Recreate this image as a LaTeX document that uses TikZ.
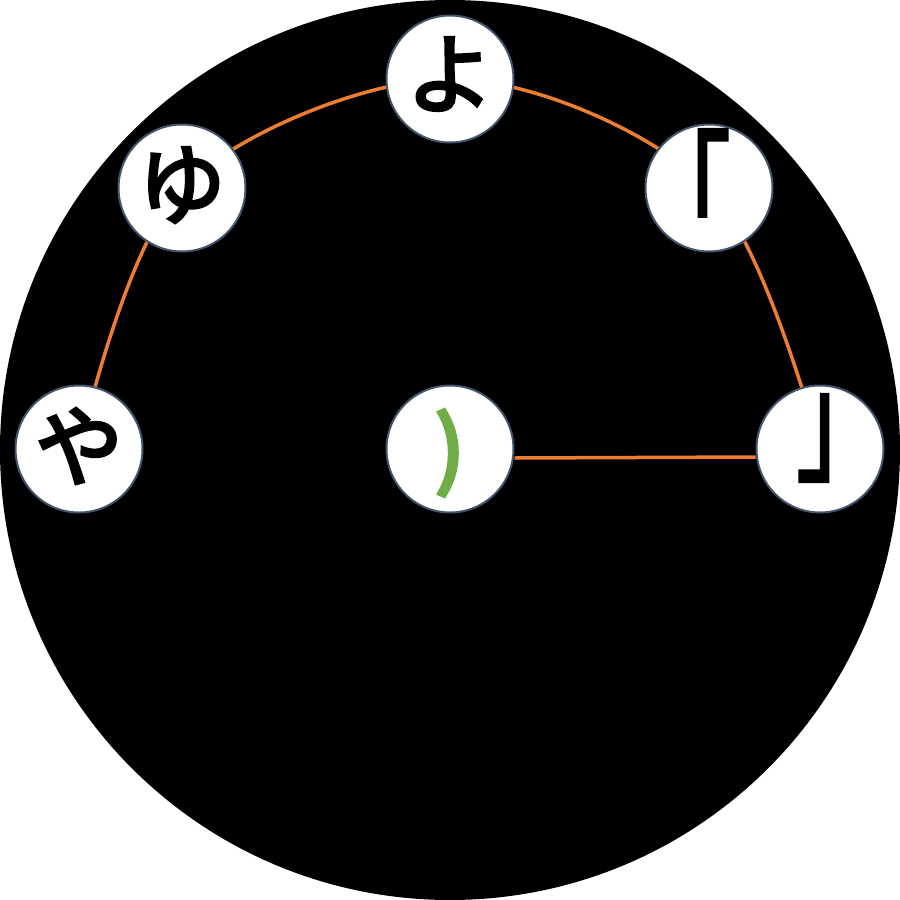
\documentclass[tikz,border=0pt]{standalone}
\usepackage{fontspec}
\usepackage{graphicx}
\newfontfamily\cjk[FakeBold=3.5]{Noto Sans CJK JP}
\newfontfamily\cjkg[FakeBold=5.5]{Noto Sans CJK JP}
\definecolor{arcorange}{HTML}{ED7D31}
\definecolor{rimgray}{HTML}{44546A}
\definecolor{kgreen}{HTML}{70AD47}
\begin{document}
\begin{tikzpicture}[x=1pt,y=-1pt,
  kana/.style={circle,draw=rimgray,line width=2pt,fill=white,minimum size=127pt,inner sep=0pt,
    font=\cjk\fontsize{88}{88}\selectfont},
  glyph/.style={kana,fill=none,draw=none},
  link/.style={draw=arcorange,line width=3.5pt}]
\useasboundingbox (0,0) rectangle (900,900);
\fill[white] (0,0) rectangle (900,900);
\fill[black] (450,450) circle (450);
\coordinate (ya) at (79,449);
\coordinate (yu) at (182,188);
\coordinate (yo) at (450,79);
\coordinate (ka) at (709,188);
\coordinate (kb) at (820,449);
\draw[link] plot[smooth,tension=0.55] coordinates {(ya) (yu) (yo) (ka) (kb)};
\node[kana] (c) at (450,449) {};
\node[kana] (r) at (820,449) {};
\draw[link] ([yshift=-9pt]c.east) -- ([yshift=-8pt]r.west);
\node[kana] (nya) at (ya) {};
\node[kana] (nyu) at (yu) {};
\node[kana] (nyo) at (yo) {};
\node[kana] (nka) at (ka) {};
\node[glyph] at ([yshift=3pt]nya) {や};
\node[glyph] at ([yshift=3pt]nyu) {ゆ};
\node[glyph] at ([yshift=5pt]nyo) {よ};
\node[glyph] at ([xshift=-23pt,yshift=2pt]nka) {\scalebox{1}[1.5]{「}};
\node[glyph] at ([xshift=21pt,yshift=11pt]r) {\scalebox{1}[1.5]{」}};
\node[glyph,text=kgreen,font=\cjkg\fontsize{84}{84}\selectfont] at ([yshift=-4pt]c) {)};
\end{tikzpicture}
\end{document}
